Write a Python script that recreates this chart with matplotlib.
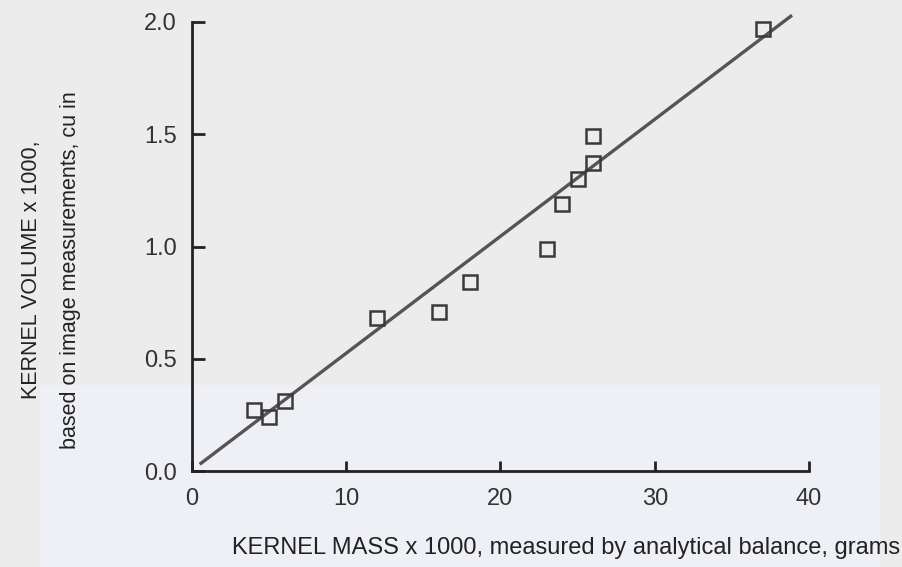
import matplotlib
matplotlib.use("Agg")
import matplotlib.pyplot as plt
from matplotlib.patches import Rectangle

# Data
kernel_mass = [4, 5, 6, 12, 16, 18, 23, 24, 25, 26, 26, 37]
kernel_volume = [0.27, 0.24, 0.31, 0.68, 0.71, 0.84, 0.99, 1.19, 1.30, 1.37, 1.49, 1.97]
fit_x = [0.5, 38.9]
fit_y = [0.03, 2.03]
x_ticks = [0, 10, 20, 30, 40]
y_ticks = [0.0, 0.5, 1.0, 1.5, 2.0]
y_tick_labels = ["0.0", "0.5", "1.0", "1.5", "2.0"]

plt.rcParams['font.family'] = ['Liberation Sans', 'DejaVu Sans']

bg = '#ececec'
ink = '#222222'
fig = plt.figure(figsize=(9.03, 5.67), dpi=100, facecolor=bg)
# faint lighter scan patch at the bottom of the page
fig.add_artist(Rectangle((40 / 903, 0), 840 / 903, 182 / 567, transform=fig.transFigure,
                         facecolor='#eff0f5', edgecolor='none', zorder=-10))

ax = fig.add_axes([0.2126, 0.1693, 0.6833, 0.7919])
ax.patch.set_alpha(0)

ax.plot(fit_x, fit_y, color='#555555', lw=2.4, solid_capstyle='butt', clip_on=False, zorder=2)
ax.plot(kernel_mass, kernel_volume, linestyle='none', marker='s', markersize=9.5,
        markerfacecolor='none', markeredgecolor='#3a3a3a', markeredgewidth=1.8,
        clip_on=False, zorder=3)

ax.set_xlim(0, 40)
ax.set_ylim(0, 2.0)
ax.set_xticks(x_ticks)
ax.set_xticklabels([str(t) for t in x_ticks])
ax.set_yticks(y_ticks)
ax.set_yticklabels(y_tick_labels)

for s in ['top', 'right']:
    ax.spines[s].set_visible(False)
for s in ['left', 'bottom']:
    ax.spines[s].set_linewidth(2.0)
    ax.spines[s].set_color(ink)

ax.tick_params(axis='y', direction='in', length=9, width=2.0, color=ink,
               labelsize=17, labelcolor='#333333', pad=11)
ax.tick_params(axis='x', direction='in', length=7, width=2.0, color=ink,
               labelsize=17, labelcolor='#333333', pad=12)

ax.set_xlabel("KERNEL MASS x 1000, measured by analytical balance, grams",
              fontsize=17, color='#222222')
ax.xaxis.set_label_coords(0.606, -0.147)
ax.set_ylabel("KERNEL VOLUME x 1000,\nbased on image measurements, cu in",
              fontsize=15.5, color='#222222', linespacing=2.1, multialignment='center')
ax.yaxis.set_label_coords(-0.18, 0.448)

fig.savefig("out.png", dpi=100, facecolor=bg)
